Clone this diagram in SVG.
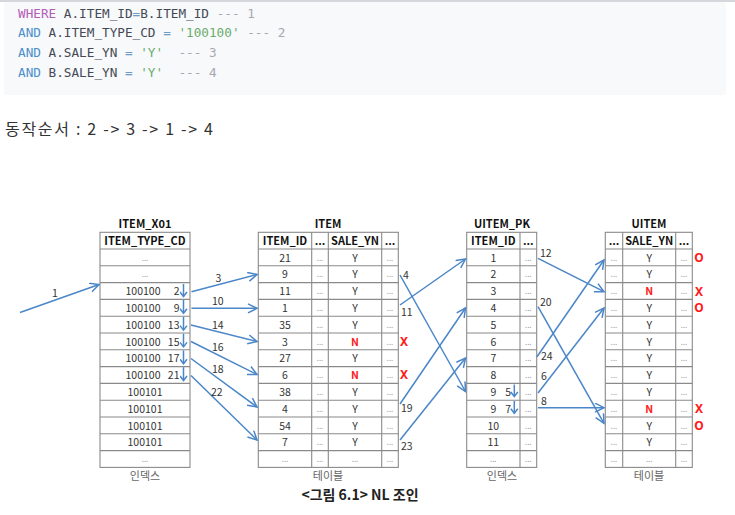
<svg xmlns="http://www.w3.org/2000/svg" width="735" height="515" viewBox="0 0 735 515">
<style>
.code{font-family:"DejaVu Sans Mono","Liberation Mono",monospace;font-size:12.7px;fill:#444a55}
.kw{fill:#b35cb8}.kb{fill:#4a8fc9}.op{fill:#6c9ac4}.str{fill:#6aab6a}.cm{fill:#a6a8ae}
.t{font-family:"Noto Sans CJK KR","Noto Sans",sans-serif;font-size:10.5px;fill:#333;text-anchor:middle}
.h{font-weight:bold;fill:#111;font-size:11px}
.d{font-family:"Noto Sans",sans-serif;font-size:8px;fill:#888;text-anchor:middle}
.n{font-family:"Noto Sans CJK KR","Noto Sans",sans-serif;font-size:10.5px;fill:#333}
.r{font-family:"Noto Sans",sans-serif;font-weight:bold;font-size:12px;fill:#ff1a1a;text-anchor:middle}
.rn{fill:#ff1a1a;font-weight:bold}
.sub{font-family:"Noto Sans CJK KR",sans-serif;font-size:11px;fill:#666;text-anchor:middle}
.grid{fill:#fff;stroke:#8a8a8a;stroke-width:1.1}
.ln{fill:none;stroke:#8a8a8a;stroke-width:1.1}
.ar{fill:none;stroke:#4a86c8;stroke-width:1.5;marker-end:url(#ah)}
.ars{fill:none;stroke:#4a86c8;stroke-width:1.5;marker-end:url(#ahs)}
</style>
<defs>
<marker id="ah" markerWidth="12" markerHeight="12" refX="10" refY="5" orient="auto" markerUnits="userSpaceOnUse"><path d="M1,0.5 L10,5 L1,9.5" fill="none" stroke="#4a86c8" stroke-width="1.5"/></marker>
<marker id="ahs" markerWidth="10" markerHeight="10" refX="4" refY="6" orient="0" markerUnits="userSpaceOnUse"><path d="M0.5,1.5 L4,6 L7.5,1.5" fill="none" stroke="#4a86c8" stroke-width="1.5"/></marker>
</defs>
<rect width="735" height="515" fill="#fff"/>
<g id="code">
<line x1="0" y1="1" x2="735" y2="1" stroke="#c9cad2" stroke-width="1.5"/>
<rect x="4" y="2" width="722" height="93" rx="3" fill="#f8f9fb"/>
<text class="code" x="18" y="17.5" xml:space="preserve"><tspan class="kw">WHERE</tspan> A.ITEM_ID<tspan class="op">=</tspan>B.ITEM_ID <tspan class="cm">--- 1</tspan></text>
<text class="code" x="18" y="37" xml:space="preserve"><tspan class="kb">AND</tspan> A.ITEM_TYPE_CD <tspan class="op">=</tspan> <tspan class="str">'100100'</tspan> <tspan class="cm">--- 2</tspan></text>
<text class="code" x="18" y="57" xml:space="preserve"><tspan class="kb">AND</tspan> A.SALE_YN <tspan class="op">=</tspan> <tspan class="str">'Y'</tspan>  <tspan class="cm">--- 3</tspan></text>
<text class="code" x="18" y="77" xml:space="preserve"><tspan class="kb">AND</tspan> B.SALE_YN <tspan class="op">=</tspan> <tspan class="str">'Y'</tspan>  <tspan class="cm">--- 4</tspan></text>
</g>
<text id="order" x="5" y="135" font-family="'Noto Sans CJK KR','Noto Sans',sans-serif" font-size="16" fill="#333" textLength="208" lengthAdjust="spacing">동작순서 : 2 -&gt; 3 -&gt; 1 -&gt; 4</text>

<g id="item_x01">
<text class="t h" x="145" y="228">ITEM_X01</text>
<rect class="grid" x="100" y="232.3" width="90" height="235.1"/>
<path class="ln" d="M100 249H190M100 265.8H190M100 282.6H190M100 299.4H190M100 316.2H190M100 333H190M100 349.8H190M100 366.6H190M100 383.4H190M100 400.2H190M100 417H190M100 433.8H190M100 450.6H190"/>
<text class="t h" x="145" y="245">ITEM_TYPE_CD</text>
<text class="d" x="145" y="260.5">...</text>
<text class="d" x="145" y="277.3">...</text>
<text class="t" x="143" y="295.2">100100</text>
<text class="t" x="143" y="312">100100</text>
<text class="t" x="143" y="328.8">100100</text>
<text class="t" x="143" y="345.6">100100</text>
<text class="t" x="143" y="362.4">100100</text>
<text class="t" x="143" y="379.2">100100</text>
<text class="t" x="145" y="396">100101</text>
<text class="t" x="145" y="412.8">100101</text>
<text class="t" x="145" y="429.6">100101</text>
<text class="t" x="145" y="446.4">100101</text>
<text class="d" x="145" y="462">...</text>
<g class="n" text-anchor="end">
<text x="179.5" y="295.2">2</text><text x="179.5" y="312">9</text><text x="179.5" y="328.8">13</text><text x="179.5" y="345.6">15</text><text x="179.5" y="362.4">17</text><text x="179.5" y="379.2">21</text>
</g>
<text class="sub" x="145" y="480">인덱스</text>
</g>

<g id="item">
<text class="t h" x="328" y="228">ITEM</text>
<rect class="grid" x="258.3" y="232.3" width="140" height="235.1"/>
<path class="ln" d="M258.3 249H398.3M258.3 265.8H398.3M258.3 282.6H398.3M258.3 299.4H398.3M258.3 316.2H398.3M258.3 333H398.3M258.3 349.8H398.3M258.3 366.6H398.3M258.3 383.4H398.3M258.3 400.2H398.3M258.3 417H398.3M258.3 433.8H398.3M258.3 450.6H398.3M311.7 232.3V467.4M328.3 232.3V467.4M381.7 232.3V467.4"/>
<text class="t h" x="285" y="245">ITEM_ID</text><text class="t h" x="320" y="245">...</text><text class="t h" x="355" y="245">SALE_YN</text><text class="t h" x="390" y="245">...</text>
<g class="t">
<text x="285" y="261.6">21</text><text x="285" y="278.4">9</text><text x="285" y="295.2">11</text><text x="285" y="312">1</text><text x="285" y="328.8">35</text><text x="285" y="345.6">3</text><text x="285" y="362.4">27</text><text x="285" y="379.2">6</text><text x="285" y="396">38</text><text x="285" y="412.8">4</text><text x="285" y="429.6">54</text><text x="285" y="446.4">7</text>
<text x="355" y="261.6">Y</text><text x="355" y="278.4">Y</text><text x="355" y="295.2">Y</text><text x="355" y="312">Y</text><text x="355" y="328.8">Y</text><text class="rn" x="355" y="345.6">N</text><text x="355" y="362.4">Y</text><text class="rn" x="355" y="379.2">N</text><text x="355" y="396">Y</text><text x="355" y="412.8">Y</text><text x="355" y="429.6">Y</text><text x="355" y="446.4">Y</text>
</g>
<g class="d">
<text x="320" y="260.5">...</text><text x="320" y="277.3">...</text><text x="320" y="294.1">...</text><text x="320" y="310.9">...</text><text x="320" y="327.7">...</text><text x="320" y="344.5">...</text><text x="320" y="361.3">...</text><text x="320" y="378.1">...</text><text x="320" y="394.9">...</text><text x="320" y="411.7">...</text><text x="320" y="428.5">...</text><text x="320" y="445.3">...</text><text x="320" y="462">...</text>
<text x="390" y="260.5">...</text><text x="390" y="277.3">...</text><text x="390" y="294.1">...</text><text x="390" y="310.9">...</text><text x="390" y="327.7">...</text><text x="390" y="344.5">...</text><text x="390" y="361.3">...</text><text x="390" y="378.1">...</text><text x="390" y="394.9">...</text><text x="390" y="411.7">...</text><text x="390" y="428.5">...</text><text x="390" y="445.3">...</text><text x="390" y="462">...</text>
<text x="285" y="462">...</text><text x="355" y="462">...</text>
</g>
<text class="r" x="404" y="345.8">X</text><text class="r" x="404" y="379.4">X</text>
<text class="sub" x="328" y="480">테이블</text>
</g>

<g id="uitem_pk">
<text class="t h" x="502" y="228">UITEM_PK</text>
<rect class="grid" x="466.7" y="232.3" width="70" height="235.1"/>
<path class="ln" d="M466.7 249H536.7M466.7 265.8H536.7M466.7 282.6H536.7M466.7 299.4H536.7M466.7 316.2H536.7M466.7 333H536.7M466.7 349.8H536.7M466.7 366.6H536.7M466.7 383.4H536.7M466.7 400.2H536.7M466.7 417H536.7M466.7 433.8H536.7M466.7 450.6H536.7M520 232.3V467.4"/>
<text class="t h" x="493.3" y="245">ITEM_ID</text><text class="t h" x="528.3" y="245">...</text>
<g class="t">
<text x="493.3" y="261.6">1</text><text x="493.3" y="278.4">2</text><text x="493.3" y="295.2">3</text><text x="493.3" y="312">4</text><text x="493.3" y="328.8">5</text><text x="493.3" y="345.6">6</text><text x="493.3" y="362.4">7</text><text x="493.3" y="379.2">8</text><text x="493.3" y="396">9</text><text x="493.3" y="412.8">9</text><text x="493.3" y="429.6">10</text><text x="493.3" y="446.4">11</text>
</g>
<g class="d">
<text x="528.3" y="260.5">...</text><text x="528.3" y="277.3">...</text><text x="528.3" y="294.1">...</text><text x="528.3" y="310.9">...</text><text x="528.3" y="327.7">...</text><text x="528.3" y="344.5">...</text><text x="528.3" y="361.3">...</text><text x="528.3" y="378.1">...</text><text x="528.3" y="394.9">...</text><text x="528.3" y="411.7">...</text><text x="528.3" y="428.5">...</text><text x="528.3" y="445.3">...</text><text x="528.3" y="462">...</text>
<text x="493.3" y="462">...</text>
</g>
<g class="n" text-anchor="end"><text x="511" y="396">5</text><text x="511" y="412.8">7</text></g>
<text class="sub" x="502" y="480">인덱스</text>
</g>

<g id="uitem">
<text class="t h" x="649" y="228">UITEM</text>
<rect class="grid" x="605.3" y="232.3" width="87" height="235.1"/>
<path class="ln" d="M605.3 249H692.3M605.3 265.8H692.3M605.3 282.6H692.3M605.3 299.4H692.3M605.3 316.2H692.3M605.3 333H692.3M605.3 349.8H692.3M605.3 366.6H692.3M605.3 383.4H692.3M605.3 400.2H692.3M605.3 417H692.3M605.3 433.8H692.3M605.3 450.6H692.3M622.7 232.3V467.4M675.7 232.3V467.4"/>
<text class="t h" x="614" y="245">...</text><text class="t h" x="649.2" y="245">SALE_YN</text><text class="t h" x="684" y="245">...</text>
<g class="t">
<text x="649.2" y="261.6">Y</text><text x="649.2" y="278.4">Y</text><text class="rn" x="649.2" y="295.2">N</text><text x="649.2" y="312">Y</text><text x="649.2" y="328.8">Y</text><text x="649.2" y="345.6">Y</text><text x="649.2" y="362.4">Y</text><text x="649.2" y="379.2">Y</text><text x="649.2" y="396">Y</text><text class="rn" x="649.2" y="412.8">N</text><text x="649.2" y="429.6">Y</text><text x="649.2" y="446.4">Y</text>
</g>
<g class="d">
<text x="614" y="260.5">...</text><text x="614" y="277.3">...</text><text x="614" y="294.1">...</text><text x="614" y="310.9">...</text><text x="614" y="327.7">...</text><text x="614" y="344.5">...</text><text x="614" y="361.3">...</text><text x="614" y="378.1">...</text><text x="614" y="394.9">...</text><text x="614" y="411.7">...</text><text x="614" y="428.5">...</text><text x="614" y="445.3">...</text><text x="614" y="462">...</text>
<text x="684" y="260.5">...</text><text x="684" y="277.3">...</text><text x="684" y="294.1">...</text><text x="684" y="310.9">...</text><text x="684" y="327.7">...</text><text x="684" y="344.5">...</text><text x="684" y="361.3">...</text><text x="684" y="378.1">...</text><text x="684" y="394.9">...</text><text x="684" y="411.7">...</text><text x="684" y="428.5">...</text><text x="684" y="445.3">...</text><text x="684" y="462">...</text>
<text x="649.2" y="462">...</text>
</g>
<text class="r" x="699" y="262">O</text><text class="r" x="699" y="295.6">X</text><text class="r" x="699" y="312.4">O</text><text class="r" x="699" y="413.2">X</text><text class="r" x="699" y="430">O</text>
<text class="sub" x="649" y="480">테이블</text>
</g>

<g id="connectors">
<path class="ars" d="M183.5 284V296.5"/><path class="ars" d="M183.5 300V313.3"/><path class="ars" d="M183.5 316.8V330.1"/><path class="ars" d="M183.5 333.6V346.9"/><path class="ars" d="M183.5 350.4V363.7"/><path class="ars" d="M183.5 367.2V380.5"/>
<path class="ars" d="M514.3 384.5V396.5"/><path class="ars" d="M514.3 401V413.3"/>
<path class="ar" d="M20 312.5L99 284.5"/>
<path class="ar" d="M191.5 291.7L257 274.5"/>
<path class="ar" d="M191.5 308.3H257"/>
<path class="ar" d="M191 325L257 341.5"/>
<path class="ar" d="M191 341.5L257 374.5"/>
<path class="ar" d="M191 358.5L257 407"/>
<path class="ar" d="M191 375.5L257 440"/>
<path class="ar" d="M400 275L465.5 391.5"/>
<path class="ar" d="M400 305L465.5 259"/>
<path class="ar" d="M400 404L465.5 308"/>
<path class="ar" d="M400 440L465.5 358"/>
<path class="ar" d="M538 258.3L604 291.7"/>
<path class="ar" d="M538 306.7L604 423.3"/>
<path class="ar" d="M537 356.7L604 260"/>
<path class="ar" d="M538 393L604 308"/>
<path class="ar" d="M538 407.7H604"/>
<g class="n">
<text x="52" y="297">1</text>
<text x="215.5" y="281.5">3</text>
<text x="212" y="305">10</text>
<text x="212" y="329">14</text>
<text x="212" y="350.5">16</text>
<text x="212" y="373">18</text>
<text x="211" y="395.5">22</text>
<text x="403" y="279">4</text>
<text x="401" y="315.5">11</text>
<text x="401" y="411.5">19</text>
<text x="401" y="450">23</text>
<text x="540" y="257">12</text>
<text x="540" y="305.5">20</text>
<text x="541" y="360">24</text>
<text x="541" y="380">6</text>
<text x="541" y="404.5">8</text>
</g>
</g>
<text id="caption" x="360" y="500" text-anchor="middle" font-family="'Noto Sans CJK KR','Noto Sans',sans-serif" font-size="14" font-weight="bold" fill="#222">&lt;그림 6.1&gt; NL 조인</text>
</svg>
